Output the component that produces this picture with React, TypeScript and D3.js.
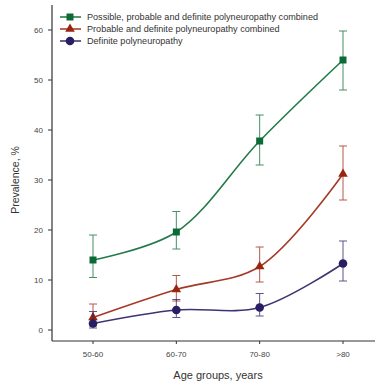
import React from 'react';
import * as d3 from 'd3';

const groups = ['50-60', '60-70', '70-80', '>80'];
const yTicks = [0, 10, 20, 30, 40, 50, 60];

const possibleMean = [14.0, 19.6, 37.8, 54.0];
const possibleLow = [10.5, 16.2, 33.0, 48.0];
const possibleHigh = [19.0, 23.7, 43.0, 59.8];

const probableMean = [2.5, 8.1, 12.7, 31.2];
const probableLow = [0.8, 5.8, 9.6, 26.0];
const probableHigh = [5.2, 10.9, 16.6, 36.8];

const definiteMean = [1.3, 4.0, 4.5, 13.3];
const definiteLow = [0.4, 2.5, 2.8, 9.8];
const definiteHigh = [3.7, 6.1, 7.3, 17.8];

const seriesNames = [
  'Possible, probable and definite polyneuropathy combined',
  'Probable and definite polyneuropathy combined',
  'Definite polyneuropathy',
];

const series = [
  { name: seriesNames[0], mean: possibleMean, low: possibleLow, high: possibleHigh, color: '#0b6b35', shape: 'square' },
  { name: seriesNames[1], mean: probableMean, low: probableLow, high: probableHigh, color: '#9a2410', shape: 'triangle' },
  { name: seriesNames[2], mean: definiteMean, low: definiteLow, high: definiteHigh, color: '#281e62', shape: 'circle' },
];

const W = 375;
const H = 381;
const axisX = 52;
const axisY = 341;

const x = d3.scalePoint<string>().domain(groups).range([93, 343]);
const y = d3.scaleLinear().domain([0, 60]).range([330, 30]);

const Marker = ({ shape, cx, cy, color }: { shape: string; cx: number; cy: number; color: string }) => {
  if (shape === 'square') return <rect x={cx - 3.5} y={cy - 3.5} width={7} height={7} fill={color} />;
  if (shape === 'triangle') {
    const p = d3.symbol().type(d3.symbolTriangle).size(40)();
    return <path d={p || ''} transform={`translate(${cx},${cy})`} fill={color} />;
  }
  return <circle cx={cx} cy={cy} r={4.3} fill={color} />;
};

const App = () => {
  const line = d3
    .line<number>()
    .x((_, i) => x(groups[i]) as number)
    .y(d => y(d))
    .curve(d3.curveCatmullRom.alpha(0.5));

  const font = 'Arial, "Liberation Sans", sans-serif';

  return (
    <div style={{ position: 'absolute', left: 0, top: 0 }}>
      <svg width={W} height={H} style={{ display: 'block', background: '#fff' }} fontFamily={font}>
        {/* axes */}
        <line x1={axisX} x2={axisX} y1={5} y2={axisY} stroke="#333" strokeWidth={1.2} />
        <line x1={axisX} x2={W} y1={axisY} y2={axisY} stroke="#333" strokeWidth={1.2} />
        {yTicks.map(t => (
          <g key={t}>
            <line x1={axisX - 4} x2={axisX} y1={y(t)} y2={y(t)} stroke="#333" />
            <text x={axisX - 9} y={y(t)} dy="0.35em" textAnchor="end" fontSize={8} fill="#444">
              {t}
            </text>
          </g>
        ))}
        {groups.map(g => (
          <g key={g}>
            <line x1={x(g)} x2={x(g)} y1={axisY} y2={axisY + 3} stroke="#333" />
            <text x={x(g)} y={354} dy="0.35em" textAnchor="middle" fontSize={8} fill="#444">
              {g}
            </text>
          </g>
        ))}
        <text x={218} y={375} dy="0.35em" textAnchor="middle" fontSize={11} fill="#333">
          Age groups, years
        </text>
        <text
          transform="translate(15,180) rotate(-90)"
          dy="0.35em"
          textAnchor="middle"
          fontSize={10.5}
          fill="#333"
        >
          Prevalence, %
        </text>

        {/* series */}
        {series.map(s => (
          <g key={s.name}>
            <path d={line(s.mean) || ''} fill="none" stroke={s.color} strokeWidth={1.6} opacity={0.9} />
            {s.mean.map((m, i) => {
              const cx = x(groups[i]) as number;
              return (
                <g key={i} stroke={s.color} strokeWidth={1} opacity={0.75}>
                  <line x1={cx} x2={cx} y1={y(s.low[i])} y2={y(s.high[i])} />
                  <line x1={cx - 4} x2={cx + 4} y1={y(s.low[i])} y2={y(s.low[i])} />
                  <line x1={cx - 4} x2={cx + 4} y1={y(s.high[i])} y2={y(s.high[i])} />
                </g>
              );
            })}
            {s.mean.map((m, i) => (
              <Marker key={i} shape={s.shape} cx={x(groups[i]) as number} cy={y(m)} color={s.color} />
            ))}
          </g>
        ))}

        {/* legend */}
        {series.map((s, i) => {
          const ly = 17 + i * 12;
          return (
            <g key={s.name}>
              <line x1={60} x2={81} y1={ly} y2={ly} stroke={s.color} strokeWidth={1.4} />
              <Marker shape={s.shape} cx={70} cy={ly} color={s.color} />
              <text x={87} y={ly} dy="0.35em" fontSize={9.1} fill="#333">
                {s.name}
              </text>
            </g>
          );
        })}
      </svg>
    </div>
  );
};

export default App;
